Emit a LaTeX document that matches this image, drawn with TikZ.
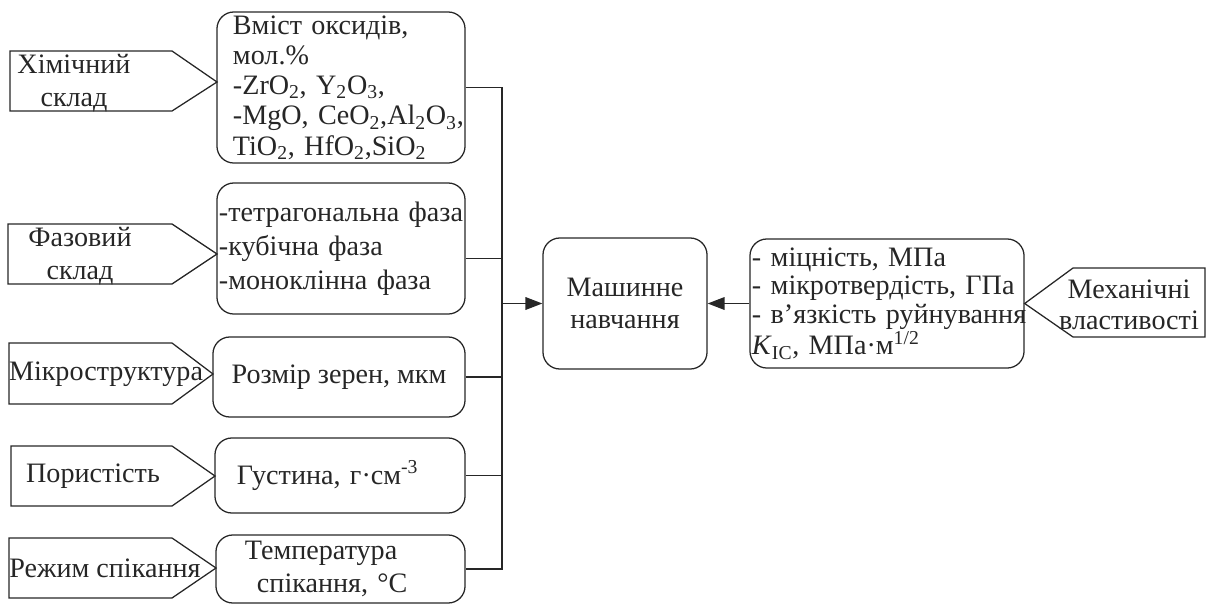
\documentclass[tikz,border=0pt]{standalone}
\usepackage{fontspec}
\setmainfont{Liberation Serif}
\usetikzlibrary{arrows.meta}

\begin{document}
\begin{tikzpicture}[
    x=0.025cm, y=-0.025cm,
    line width=0.9pt, black!85,
    box/.style={draw, rounded corners=12pt, inner ysep=0pt, align=left, font=\fontsize{20}{23}\selectfont},
    lbl/.style={inner sep=0pt, align=center, font=\fontsize{20}{23}\selectfont},
    arr/.style={-{Triangle[length=12pt, width=9pt]}},
]
    \useasboundingbox (0,0) rectangle (1208,605);

    % Chemical composition
    \draw (10,51) -- (172,51) -- (217,82) -- (172,111) -- (10,111) -- cycle;
    \node[lbl] (chem) at (74,83) {Хімічний\\склад};
    \node[box, minimum width=6.2cm, minimum height=3.775cm, inner xsep=0.4cm, text width=5.4cm, font=\fontsize{20}{21.5}\selectfont] (ox) at (341,87.5)
        {Вміст оксидів,\\мол.\%\\-ZrO\textsubscript{2}, Y\textsubscript{2}O\textsubscript{3},\\\mbox{-MgO, CeO\textsubscript{2},Al\textsubscript{2}O\textsubscript{3},}\\TiO\textsubscript{2}, HfO\textsubscript{2},SiO\textsubscript{2}};

    % Phase composition
    \draw (8,224) -- (172,224) -- (217,254) -- (172,284) -- (8,284) -- cycle;
    \node[lbl] (phasel) at (80,256) {Фазовий\\склад};
    \node[box, minimum width=6.2cm, minimum height=3.275cm, inner xsep=0.05cm, text width=6.1cm, font=\fontsize{20}{24}\selectfont] (phase) at (341,248.5)
        {-тетрагональна фаза\\-кубічна фаза\\-моноклінна фаза};

    % Microstructure
    \draw (9,343) -- (172,343) -- (213,374) -- (172,404) -- (9,404) -- cycle;
    \node[lbl] (micro) at (106,374) {Мікроструктура};
    \node[box, align=center, minimum width=6.3cm, minimum height=2cm] (grain) at (339,377) {Розмір зерен, мкм};

    % Porosity
    \draw (11,446) -- (172,446) -- (215,476) -- (172,506) -- (11,506) -- cycle;
    \node[lbl] (por) at (93,476) {Пористість};
    \node[box, minimum width=6.25cm, minimum height=1.875cm, inner xsep=0.55cm, text width=5.15cm] (dens) at (340,475.5)
        {Густина, г·см\textsuperscript{-3}};

    % Sintering
    \draw (9,538) -- (172,538) -- (216,568) -- (172,598) -- (9,598) -- cycle;
    \node[lbl] (sint) at (105,568) {Режим спікання};
    \node[box, minimum width=6.225cm, minimum height=1.7cm, inner xsep=0.725cm, text width=4.775cm] (temp) at (340.5,569)
        {Температура\\\hspace*{0.3cm}спікання, °C};

    % Machine learning
    \node[box, align=center, minimum width=4.1cm, minimum height=3.275cm] (ml) at (625,303.5) {Машинне\\навчання};

    % Mechanical properties
    \node[box, minimum width=6.85cm, minimum height=3.225cm, inner xsep=0.05cm, text width=6.75cm, font=\fontsize{20}{20.5}\selectfont] (mech) at (887,303.5)
        {- міцність, МПа\\- мікротвердість, ГПа\\\mbox{- в’язкість руйнування}\\\textit{K}\textsubscript{IC}, МПа·м\textsuperscript{1/2}};
    \draw (mech.east) -- (1073,268) -- (1205,268) -- (1205,337) -- (1073,337) -- cycle;
    \node[lbl, font=\fontsize{20}{22}\selectfont] (mechl) at (1129,305) {Механічні\\властивості};

    % Connectors
    \coordinate (bus) at (502,303.5);
    \coordinate (ph) at ([yshift=-0.25cm]phase.east);
    \draw (ox.east) -- (ox.east -| bus) -- (temp.east -| bus) -- (temp.east);
    \draw (ph) -- (ph -| bus);
    \draw (grain.east) -- (grain.east -| bus);
    \draw (dens.east) -- (dens.east -| bus);
    \draw[arr] (bus) -- (ml.west);
    \draw[arr] (mech.west) -- (ml.east);
\end{tikzpicture}
\end{document}
